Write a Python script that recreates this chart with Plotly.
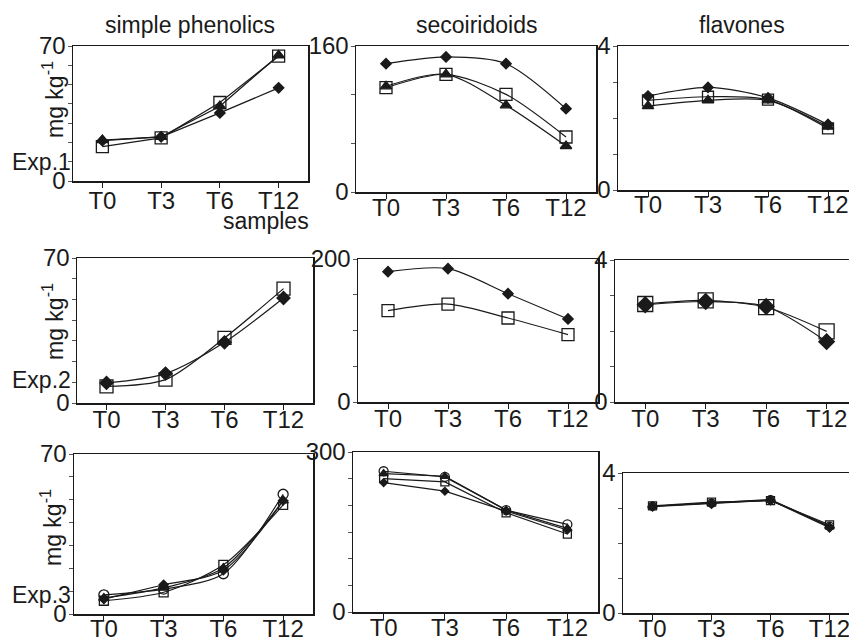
import plotly.graph_objects as go

W, H = 849, 638

categories = ["T0", "T3", "T6", "T12"]
column_titles = ["simple phenolics", "secoiridoids", "flavones"]
row_labels = ["Exp.1", "Exp.2", "Exp.3"]
y_unit = "mg kg<sup>-1</sup>"

# Exp.1
exp1_phen_diamond = [20.9, 22.9, 35.3, 48.3]
exp1_phen_square = [17.8, 22.4, 40.7, 64.7]
exp1_phen_triangle = [21.2, 22.9, 38.8, 65.2]
exp1_seco_diamond = [140.6, 148.0, 140.6, 91.3]
exp1_seco_square = [114.3, 129.0, 107.0, 60.3]
exp1_seco_triangle = [115.8, 129.0, 95.0, 50.4]
exp1_flav_diamond = [2.61, 2.85, 2.56, 1.82]
exp1_flav_square = [2.49, 2.59, 2.51, 1.71]
exp1_flav_triangle = [2.33, 2.49, 2.49, 1.76]

# Exp.2
exp2_phen_diamond = [9.7, 14.2, 29.3, 50.7]
exp2_phen_square = [8.0, 11.3, 31.4, 55.2]
exp2_seco_diamond = [182.3, 186.5, 151.5, 116.1]
exp2_seco_square = [127.7, 137.0, 117.5, 94.2]
exp2_flav_diamond = [2.74, 2.83, 2.69, 1.70]
exp2_flav_square = [2.76, 2.86, 2.67, 1.99]

# Exp.3
exp3_phen_circle = [8.4, 10.9, 17.6, 52.4]
exp3_phen_diamond = [6.5, 12.8, 19.1, 49.6]
exp3_phen_square = [5.8, 9.5, 21.5, 47.7]
exp3_phen_triangle = [7.0, 11.4, 20.1, 49.6]
exp3_seco_circle = [263.9, 253.3, 191.0, 164.3]
exp3_seco_triangle = [259.5, 254.5, 191.0, 156.8]
exp3_seco_square = [250.2, 244.0, 186.0, 146.2]
exp3_seco_diamond = [242.7, 226.5, 189.2, 153.7]
exp3_flav_circle = [3.05, 3.14, 3.24, 2.48]
exp3_flav_diamond = [3.04, 3.12, 3.22, 2.44]
exp3_flav_square = [3.06, 3.17, 3.21, 2.52]
exp3_flav_triangle = [3.05, 3.14, 3.23, 2.47]

# y-axis maxima and tick steps per panel
y_max = [[70, 160, 4], [70, 200, 4], [70, 300, 4]]
y_step = [[10, 160 / 3, 1], [10, 50, 1], [10, 50, 1]]

INK = "#1a1a1a"
FONT = "Liberation Sans, Arial, sans-serif"

# panel geometry in pixels: left, right, top, bottom ; x-range ; label standoff
panels = [
    # row 1
    dict(box=(73, 308, 46, 181), xr=[-0.5, 3.5], shape="linear", so=-7,
         series=[(exp1_phen_triangle, "triangle-up", 10), (exp1_phen_square, "square-open", 12),
                 (exp1_phen_diamond, "diamond", 8)]),
    dict(box=(356, 596, 46, 192), xr=[-0.5, 3.5], shape="spline", so=-11,
         series=[(exp1_seco_triangle, "triangle-up", 10), (exp1_seco_square, "square-open", 12),
                 (exp1_seco_diamond, "diamond", 8)]),
    dict(box=(618, 849, 46, 190), xr=[-0.5, 3.35], shape="spline", so=-12,
         series=[(exp1_flav_triangle, "triangle-up", 10), (exp1_flav_square, "square-open", 11),
                 (exp1_flav_diamond, "diamond", 8)]),
    # row 2
    dict(box=(77, 313, 258, 403), xr=[-0.5, 3.5], shape="spline", so=-10,
         series=[(exp2_phen_square, "square-open", 13), (exp2_phen_diamond, "diamond", 10)]),
    dict(box=(358, 598, 259, 402), xr=[-0.5, 3.5], shape="spline", so=-10,
         series=[(exp2_seco_square, "square-open", 12), (exp2_seco_diamond, "diamond", 8)]),
    dict(box=(615, 849, 260, 402), xr=[-0.5, 3.37], shape="spline", so=-10,
         series=[(exp2_flav_square, "square-open", 15), (exp2_flav_diamond, "diamond", 12)]),
    # row 3
    dict(box=(74, 313, 454, 614), xr=[-0.5, 3.5], shape="spline", so=-12,
         series=[(exp3_phen_circle, "circle-open", 10), (exp3_phen_square, "square-open", 9),
                 (exp3_phen_triangle, "triangle-up", 9), (exp3_phen_diamond, "diamond", 7)]),
    dict(box=(353, 598, 452, 612), xr=[-0.5, 3.5], shape="linear", so=-11,
         series=[(exp3_seco_circle, "circle-open", 9), (exp3_seco_square, "square-open", 8),
                 (exp3_seco_triangle, "triangle-up", 8), (exp3_seco_diamond, "diamond", 6)]),
    dict(box=(623, 849, 473, 613), xr=[-0.5, 3.33], shape="linear", so=-11,
         series=[(exp3_flav_circle, "circle-open", 8), (exp3_flav_square, "square-open", 8),
                 (exp3_flav_triangle, "triangle-up", 8), (exp3_flav_diamond, "diamond", 7)]),
]

def fx(x):
    return min(max(x / W, 0.0), 1.0)

def fy(y):
    return min(max(1 - y / H, 0.0), 1.0)

fig = go.Figure()
layout = {}
for i, p in enumerate(panels):
    r, c = divmod(i, 3)
    n = i + 1
    xa = "x" if n == 1 else f"x{n}"
    ya = "y" if n == 1 else f"y{n}"
    left, right, top, bottom = p["box"]
    for vals, symbol, size in p["series"]:
        fig.add_trace(go.Scatter(
            x=categories, y=vals, xaxis=xa, yaxis=ya, mode="lines+markers",
            line=dict(color=INK, width=1.2, shape=p["shape"], smoothing=0.8),
            marker=dict(symbol=symbol, size=size, color=INK,
                        line=dict(color=INK, width=1.3)),
            showlegend=False, hoverinfo="skip", cliponaxis=False))
    ymax = y_max[r][c]
    step = y_step[r][c]
    nt = int(round(ymax / step))
    tv = [k * step for k in range(nt + 1)]
    tt = [""] * (nt + 1)
    tt[0] = "0"
    tt[-1] = str(ymax)
    layout["xaxis" if n == 1 else f"xaxis{n}"] = dict(
        domain=[fx(left), fx(right)], anchor=ya, type="category",
        categoryorder="array", categoryarray=categories, range=p["xr"],
        showline=True, linecolor=INK, linewidth=1.5, mirror=True,
        ticks="outside", ticklen=5, tickwidth=1, tickcolor=INK,
        ticklabelstandoff=p["so"],
        showgrid=False, zeroline=False, automargin=False,
        tickfont=dict(family=FONT, size=24, color=INK))
    layout["yaxis" if n == 1 else f"yaxis{n}"] = dict(
        domain=[fy(bottom), fy(top)], anchor=xa, range=[0, ymax],
        showline=True, linecolor=INK, linewidth=1.5, mirror=True,
        ticks="outside", ticklen=4, tickwidth=1, tickcolor="#555",
        ticklabelstandoff=-3,
        tickvals=tv, ticktext=tt, showgrid=False, zeroline=False, automargin=False,
        tickfont=dict(family=FONT, size=24, color=INK))

annotations = []
title_pos = [(190, 25), (476, 25), (742, 25)]
for t, (x, y) in zip(column_titles, title_pos):
    annotations.append(dict(text=t, x=fx(x), y=fy(y), xref="paper", yref="paper",
                            showarrow=False, xanchor="center", yanchor="middle",
                            font=dict(family=FONT, size=23, color=INK)))
exp_pos = [(73, 162), (73, 380), (73, 595)]
for t, (x, y) in zip(row_labels, exp_pos):
    annotations.append(dict(text=t, x=fx(x), y=fy(y), xref="paper", yref="paper",
                            showarrow=False, xanchor="right", yanchor="middle",
                            font=dict(family=FONT, size=23, color=INK)))
unit_pos = [(53, 100), (53, 322), (51, 528)]
for (x, y) in unit_pos:
    annotations.append(dict(text=y_unit, x=fx(x), y=fy(y), xref="paper", yref="paper",
                            showarrow=False, xanchor="center", yanchor="middle",
                            textangle=-90,
                            font=dict(family=FONT, size=23, color=INK)))
annotations.append(dict(text="samples", x=fx(266), y=fy(221), xref="paper", yref="paper",
                        showarrow=False, xanchor="center", yanchor="middle",
                        font=dict(family=FONT, size=23, color=INK)))

fig.update_layout(
    template="none",
    width=W, height=H, margin=dict(l=0, r=0, t=0, b=0, pad=0, autoexpand=False),
    paper_bgcolor="white", plot_bgcolor="white",
    annotations=annotations, **layout)

fig.write_html(
    "out.html",
    config={"displayModeBar": False, "staticPlot": True},
    post_script="document.body.style.margin='0';document.body.style.overflow='hidden';"
                "document.documentElement.style.overflow='hidden';")
